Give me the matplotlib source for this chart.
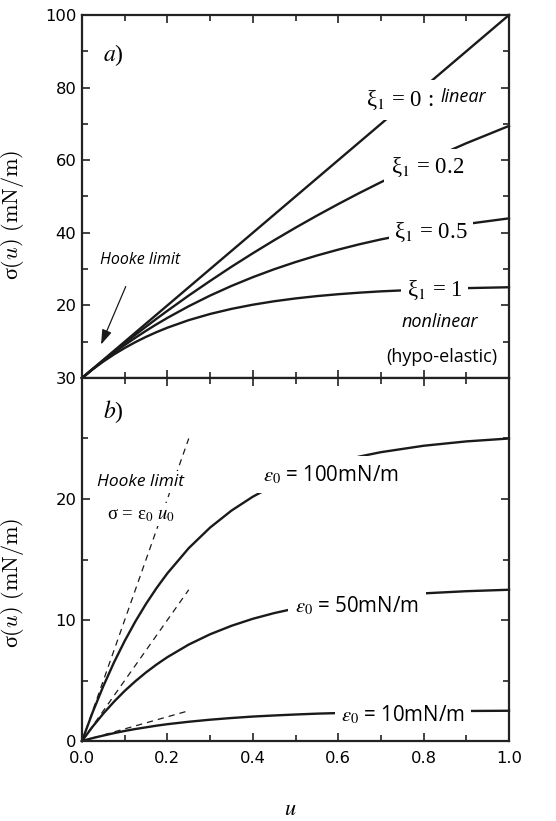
import matplotlib
matplotlib.use("Agg")
import matplotlib.pyplot as plt
from matplotlib.ticker import MultipleLocator, FixedLocator, FixedFormatter

plt.rcParams['mathtext.fontset'] = 'stix'
plt.rcParams['font.family'] = ['DejaVu Sans']

# ---- data ----
u = [0.0, 0.025, 0.05, 0.075, 0.1, 0.125, 0.15, 0.175, 0.2, 0.25, 0.3, 0.35,
     0.4, 0.45, 0.5, 0.55, 0.6, 0.65, 0.7, 0.8, 0.9, 1.0]

# panel a: stress for different nonlinearity xi_1 (eps0 = 100 mN/m)
sig_xi0 = [0, 2.5, 5, 7.5, 10, 12.5, 15, 17.5, 20, 25, 30, 35, 40, 45, 50, 55,
           60, 65, 70, 80, 90, 100]
sig_xi02 = [0, 2.48, 4.90, 7.29, 9.62, 11.91, 14.15, 16.36, 18.51, 22.72, 26.74,
            30.64, 34.36, 37.95, 41.40, 44.72, 47.91, 50.99, 53.94, 59.51, 64.67, 69.44]
sig_xi05 = [0, 2.44, 4.76, 6.98, 9.09, 11.09, 13.01, 14.83, 16.56, 19.78, 22.71,
            25.36, 27.77, 29.96, 31.94, 33.74, 35.36, 36.85, 38.18, 40.51, 42.42, 43.98]
sig_xi1 = [0, 2.38, 4.54, 6.50, 8.27, 9.88, 11.34, 12.66, 13.86, 15.94, 17.64,
           19.04, 20.19, 21.14, 21.92, 22.56, 23.08, 23.51, 23.87, 24.40, 24.76, 25.00]

# panel b: stress for different eps0
sig_e100 = [0, 2.38, 4.54, 6.50, 8.27, 9.88, 11.34, 12.66, 13.86, 15.94, 17.64,
            19.04, 20.19, 21.14, 21.92, 22.56, 23.08, 23.51, 23.87, 24.40, 24.76, 25.00]
sig_e50 = [0, 1.19, 2.27, 3.25, 4.14, 4.94, 5.67, 6.33, 6.93, 7.97, 8.82, 9.52,
           10.10, 10.57, 10.96, 11.28, 11.54, 11.76, 11.94, 12.20, 12.38, 12.50]
sig_e10 = [0, 0.24, 0.45, 0.65, 0.83, 0.99, 1.13, 1.27, 1.39, 1.59, 1.76, 1.90,
           2.02, 2.11, 2.19, 2.26, 2.31, 2.35, 2.39, 2.44, 2.48, 2.50]

# Hooke limit (dashed) lines
hooke_u = [0.0, 0.25]
hooke_100 = [0.0, 25.0]
hooke_50 = [0.0, 12.5]
hooke_10 = [0.0, 2.5]

top_yticks = [0, 20, 40, 60, 80, 100]
top_yticklabels = ["30", "20", "40", "60", "80", "100"]
bot_yticks = [0, 10, 20]
xticks = [0.0, 0.2, 0.4, 0.6, 0.8, 1.0]
xticklabels = ["0.0", "0.2", "0.4", "0.6", "0.8", "1.0"]

# ---- figure ----
fig = plt.figure(figsize=(5.56, 8.21), dpi=100)
L, W = 82/556, 427/556
H = 363/821
axa = fig.add_axes([L, 1 - 378/821, W, H])
axb = fig.add_axes([L, 1 - 741/821, W, H])

lw = 1.7
serif = ['Liberation Serif', 'DejaVu Serif']

def wbox(p):
    return dict(facecolor='white', edgecolor='none', pad=p)

for ax in (axa, axb):
    ax.set_xlim(0, 1)
    for s in ax.spines.values():
        s.set_linewidth(1.6)
        s.set_color('#222222')
    ax.tick_params(which='both', direction='in', top=True, right=True,
                   width=1.2, color='#222222', labelsize=11.8, pad=4)
    ax.tick_params(which='major', length=6)
    ax.tick_params(which='minor', length=4)
    ax.xaxis.set_major_locator(FixedLocator(xticks))
    ax.xaxis.set_minor_locator(MultipleLocator(0.1))

# panel a
axa.set_ylim(0, 100)
axa.yaxis.set_major_locator(FixedLocator(top_yticks))
axa.yaxis.set_major_formatter(FixedFormatter(top_yticklabels))
axa.yaxis.set_minor_locator(MultipleLocator(10))
axa.tick_params(labelbottom=False)
for s in (sig_xi0, sig_xi02, sig_xi05, sig_xi1):
    axa.plot(u, s, color='#1a1a1a', lw=lw, zorder=2, clip_on=False)

axa.text(0.073, 89, "$a$)", fontsize=17, family='Liberation Serif',
         ha='center', va='center')
axa.text(0.745, 76.6, "ξ$_1$ = 0 :", fontsize=16.5, family=serif,
         ha='center', va='center', bbox=wbox(6), zorder=5)
axa.text(0.893, 77.3, "linear", fontsize=13, style='italic', family='Open Sans',
         ha='center', va='center', bbox=wbox(1), zorder=6)
axa.text(0.81, 58, "ξ$_1$ = 0.2", fontsize=16.5, family=serif,
         ha='center', va='center', bbox=wbox(5), zorder=5)
axa.text(0.817, 40.2, "ξ$_1$ = 0.5", fontsize=16.5, family=serif,
         ha='center', va='center', bbox=wbox(4), zorder=5)
axa.text(0.826, 24.2, "ξ$_1$ = 1", fontsize=16.5, family=serif,
         ha='center', va='center', bbox=wbox(4), zorder=5)
axa.text(0.838, 15.4, "nonlinear", fontsize=13, style='italic', family='Open Sans',
         ha='center', va='center')
axa.text(0.843, 5.8, "(hypo-elastic)", fontsize=13, family='Open Sans',
         ha='center', va='center')
axa.text(0.136, 32.5, "Hooke limit", fontsize=11.5, style='italic', family='Open Sans',
         ha='center', va='center')
axa.annotate("", xy=(0.042, 8.5), xytext=(0.105, 25.9),
             arrowprops=dict(arrowstyle='-|>,head_length=0.9,head_width=0.3',
                             lw=0.9, color='#1a1a1a'))

ylab = r"σ$(u)\ (\mathrm{mN/m})$"
axa.set_ylabel(ylab, fontsize=16, family=serif, math_fontfamily='cm')
axa.yaxis.set_label_coords(-0.13, 0.449)

# panel b
axb.set_ylim(0, 30)
axb.yaxis.set_major_locator(FixedLocator(bot_yticks))
axb.yaxis.set_minor_locator(MultipleLocator(5))
axb.xaxis.set_major_formatter(FixedFormatter(xticklabels))
axb.tick_params(axis='x', pad=7)
for s in (sig_e100, sig_e50, sig_e10):
    axb.plot(u, s, color='#1a1a1a', lw=lw, zorder=2, clip_on=False)
for h in (hooke_100, hooke_50, hooke_10):
    axb.plot(hooke_u, h, color='#1a1a1a', lw=0.9, ls=(0, (5, 4)), zorder=1)

axb.text(0.073, 27.2, "$b$)", fontsize=17, family='Liberation Serif',
         ha='center', va='center')
axb.text(0.138, 21.4, "Hooke limit", fontsize=12.5, style='italic', family='Open Sans',
         ha='center', va='center', bbox=wbox(2), zorder=5)
axb.text(0.138, 18.7, "σ = ε$_0$ $u_0$", fontsize=13.5, family=serif,
         ha='center', va='center', bbox=wbox(2), zorder=5)
axb.text(0.583, 22.0, r"$\varepsilon_0$ = 100mN/m", fontsize=14.8, family='Open Sans',
         ha='center', va='center', bbox=wbox(5), zorder=5)
axb.text(0.644, 11.2, r"$\varepsilon_0$ = 50mN/m", fontsize=14.8, family='Open Sans',
         ha='center', va='center', bbox=wbox(5), zorder=5)
axb.text(0.752, 2.15, r"$\varepsilon_0$ = 10mN/m", fontsize=14.8, family='Open Sans',
         ha='center', va='center', bbox=wbox(4), zorder=5)
axb.set_ylabel(ylab, fontsize=16, family=serif, math_fontfamily='cm')
axb.yaxis.set_label_coords(-0.13, 0.435)
axb.set_xlabel(r"$u$", fontsize=16)
axb.xaxis.set_label_coords(0.487, -0.16)

fig.savefig("out.png", dpi=100)
